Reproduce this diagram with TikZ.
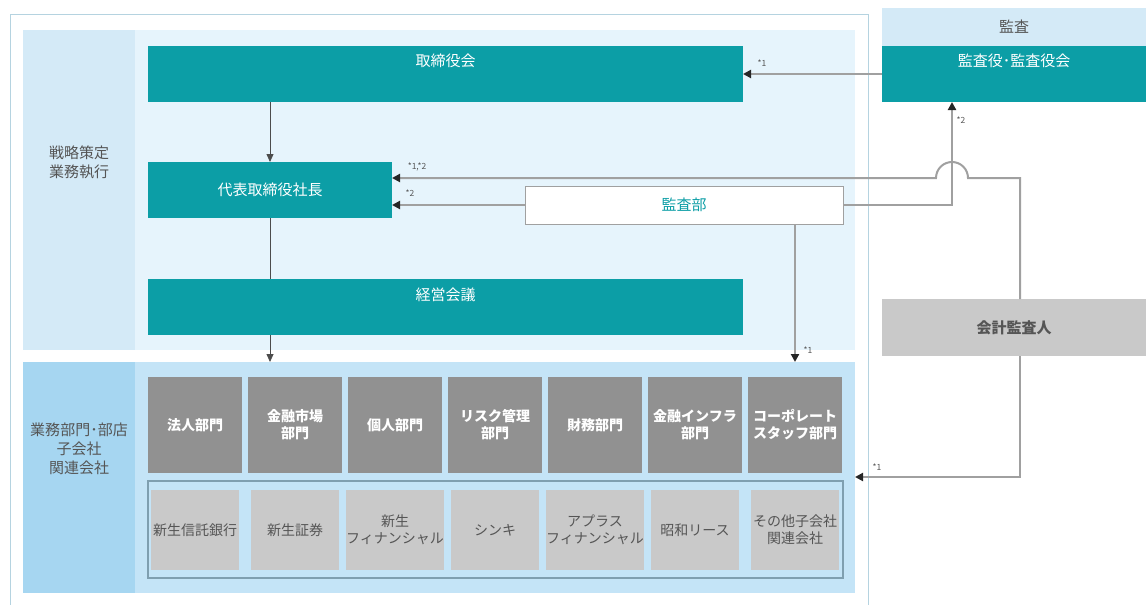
\documentclass[tikz,border=0pt]{standalone}
\usepackage{fontspec}
\setmainfont{Noto Sans CJK JP}
\usetikzlibrary{positioning,arrows.meta}

\definecolor{govteal}{RGB}{12,158,166}
\definecolor{bandlight}{RGB}{230,244,252}
\definecolor{bandlightcol}{RGB}{212,234,247}
\definecolor{bandops}{RGB}{196,228,247}
\definecolor{bandopscol}{RGB}{166,214,241}
\definecolor{deptgray}{RGB}{145,145,145}
\definecolor{subgray}{RGB}{201,201,201}
\definecolor{framegray}{RGB}{181,211,224}
\definecolor{subframe}{RGB}{127,159,176}
\definecolor{linegray}{RGB}{160,160,160}
\definecolor{txtgray}{RGB}{85,85,85}

\begin{document}
\begin{tikzpicture}[
                    x=1pt, y=-1pt,
                    node distance=100pt,
                    every node/.style={
                        inner sep=0pt,
                        outer sep=0pt,
                        align=center
                    },
                    band/.style={rectangle, fill=#1},
                    tealbox/.style={rectangle, fill=govteal, text=white,
                        minimum height=56pt, font=\fontsize{15}{18}\selectfont},
                    dept/.style={rectangle, fill=deptgray, text=white,
                        minimum width=94pt, minimum height=96pt,
                        font=\bfseries\fontsize{14}{17}\selectfont},
                    subco/.style={rectangle, fill=subgray, text=txtgray,
                        minimum width=88pt, minimum height=80pt,
                        font=\fontsize{14}{17}\selectfont},
                    sidelbl/.style={text=txtgray, font=\fontsize{15}{19}\selectfont},
                    starlbl/.style={text=txtgray, font=\fontsize{8.5}{9}\selectfont},
                    thinarrow/.style={draw=black!70, line width=0.8pt,
                        -{Triangle[length=8pt,width=7pt]}},
                    grayarrow/.style={draw=linegray, line width=2pt,
                        -{Triangle[length=8pt,width=8pt,color=black!85]}}
                ]
                    \useasboundingbox (0,0) rectangle (1146,605);

                    % outer frame
                    \draw[framegray, line width=1pt] (10,606) |- (868,14) -- (868,606);

                    % bands
                    \node[band=bandlight, minimum width=720pt, minimum height=320pt] (stratband) at (495,190) {};
                    \node[band=bandlightcol, minimum width=112pt, minimum height=320pt] (stratcol) at (79,190) {};
                    \node[band=bandops, minimum width=720pt, minimum height=231pt] (opsband) at (495,477.5) {};
                    \node[band=bandopscol, minimum width=112pt, minimum height=231pt] (opscol) at (79,477.5) {};
                    \node[sidelbl] (stratlbl) at (79,162) {戦略策定\\業務執行};
                    \node[sidelbl] (opslbl) at (79,449) {業務部門･部店\\子会社\\関連会社};

                    % boards
                    \node[tealbox, minimum width=595pt,
                        label={[anchor=north, yshift=-8pt, text=white,
                        font=\fontsize{15}{18}\selectfont]north:取締役会}] (board) at (445.5,74) {};
                    \node[tealbox, minimum width=244pt] (ceo) at (270,190) {代表取締役社長};
                    \node[tealbox, minimum width=595pt,
                        label={[anchor=north, yshift=-9pt, text=white,
                        font=\fontsize{15}{18}\selectfont]north:経営会議}] (mgmt) at (445.5,307) {};

                    % audit side
                    \node[band=bandlightcol, minimum width=264pt, minimum height=38pt,
                        text=txtgray, font=\fontsize{15}{18}\selectfont] (audhead) at (1014,27) {監査};
                    \node[tealbox, minimum width=264pt,
                        label={[anchor=north, yshift=-8pt, text=white,
                        font=\fontsize{15}{18}\selectfont]north:監査役･監査役会}] (auditors) at (1014,74) {};
                    \node[rectangle, draw=linegray, line width=1pt, fill=white, text=govteal,
                        minimum width=318pt, minimum height=38pt,
                        font=\fontsize{15}{18}\selectfont] (auditdept) at (684,205) {監査部};
                    \node[rectangle, fill=subgray, text=txtgray, minimum width=264pt,
                        minimum height=57pt, font=\bfseries\fontsize{15}{18}\selectfont] (extaud) at (1014,327.5) {会計監査人};

                    % divisions
                    \node[dept] (d1) at (195,425) {法人部門};
                    \node[dept] (d2) [right of=d1] {金融市場\\部門};
                    \node[dept] (d3) [right of=d2] {個人部門};
                    \node[dept] (d4) [right of=d3] {リスク管理\\部門};
                    \node[dept] (d5) [right of=d4] {財務部門};
                    \node[dept] (d6) [right of=d5] {金融インフラ\\部門};
                    \node[dept] (d7) [right of=d6] {コーポレート\\スタッフ部門};

                    % subsidiaries
                    \node[rectangle, draw=subframe, line width=1.2pt, minimum width=695pt,
                        minimum height=97pt] (subbox) at (495.5,529.5) {};
                    \node[subco] (s1) at (195,530) {新生信託銀行};
                    \node[subco] (s2) [right of=s1] {新生証券};
                    \node[subco] (s3) [right of=s2] {新生\\フィナンシャル};
                    \node[subco] (s4) [right of=s3] {シンキ};
                    \node[subco] (s5) [right of=s4] {アプラス\\フィナンシャル};
                    \node[subco] (s6) [right of=s5] {昭和リース};
                    \node[subco] (s7) [right of=s6] {その他子会社\\関連会社};

                    \coordinate (audin) at (952,102);
                    \coordinate (hopend) at (968,178);

                    % Edges
                    \draw[thinarrow] (board.south -| ceo) -- (ceo.north);
                    \draw[black!70, line width=0.8pt] (ceo.south) -- (mgmt.north -| ceo);
                    \draw[thinarrow] (mgmt.south -| ceo) -- (opsband.north -| ceo);
                    \draw[grayarrow] (auditors.west) -- (board.east)
                        node[starlbl, pos=1, xshift=19pt, yshift=11pt] (n1) {*1};
                    \draw[grayarrow] (auditdept.west) -- (auditdept.west -| ceo.east)
                        node[starlbl, pos=1, xshift=18pt, yshift=12pt] (n2) {*2};
                    \draw[grayarrow] (auditdept.east) -| (audin)
                        node[starlbl, pos=1, xshift=9pt, yshift=-18pt] (n3) {*2};
                    \draw[grayarrow] (auditdept.south -| d7) -- (opsband.north -| d7)
                        node[starlbl, pos=1, xshift=13pt, yshift=12pt] (n4) {*1};
                    \draw[grayarrow] ([xshift=6pt]extaud.north) |- (hopend)
                        arc[start angle=0, end angle=-180, radius=16]
                        -- (hopend -| ceo.east)
                        node[starlbl, pos=1, xshift=25pt, yshift=11pt] (n5) {*1,*2};
                    \draw[grayarrow] ([xshift=6pt]extaud.south) |- (opsband.east |- 0,477)
                        node[starlbl, pos=1, xshift=22pt, yshift=10pt] (n6) {*1};
                \end{tikzpicture}
\end{document}
